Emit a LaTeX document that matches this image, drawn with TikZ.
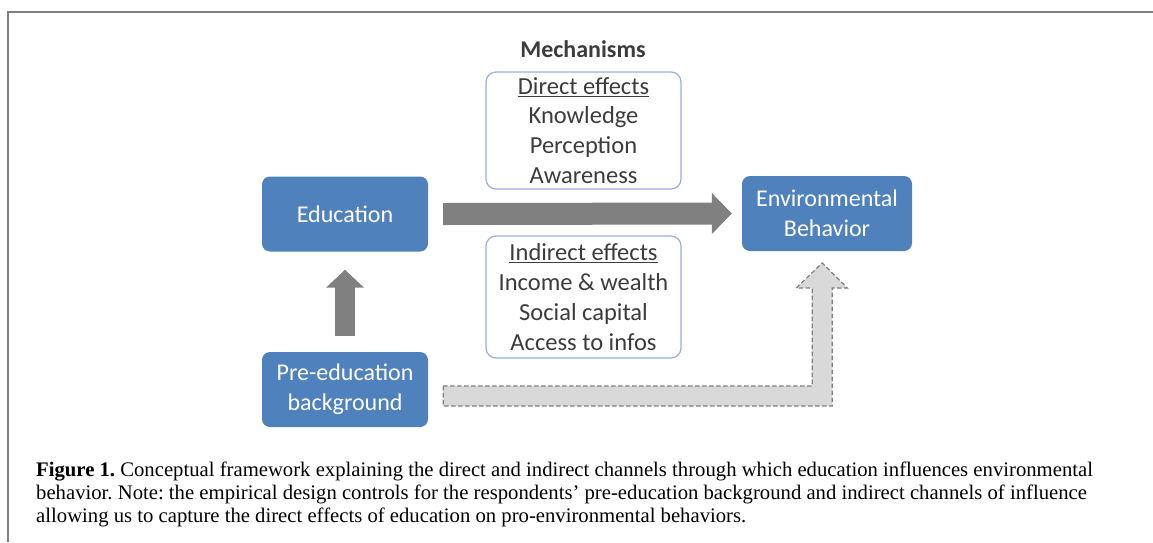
\documentclass[tikz,border=0pt]{standalone}
\usepackage{fontspec}
\setmainfont{Liberation Serif}
\newfontfamily\calib{Carlito}
\usetikzlibrary{arrows.meta,calc}
\definecolor{boxblue}{RGB}{79,129,189}
\definecolor{mechline}{RGB}{150,176,222}
\definecolor{arrowgray}{RGB}{128,128,128}
\definecolor{dashfill}{RGB}{217,217,217}
\definecolor{framegray}{RGB}{128,128,128}
\definecolor{textgray}{RGB}{60,60,60}
\tikzset{
  bluebox/.style={fill=boxblue, rounded corners=8pt, text=white, align=center,
    font=\calib\fontsize{24}{30}\selectfont, minimum width=166pt, minimum height=75pt, inner sep=0pt},
  mechbox/.style={draw=mechline, line width=1.2pt, fill=white, rounded corners=10pt, text=textgray,
    align=center, font=\calib\fontsize{24.5}{29.8}\selectfont, minimum width=195pt, inner sep=0pt},
  grayarrow/.style={draw=arrowgray, line width=#1},
}
\begin{document}
\frenchspacing
\begin{tikzpicture}[x=1pt,y=-1pt]
	\useasboundingbox (0,0) rectangle (1153,542);
	\draw[framegray, line width=2pt] (8,542) -- (8,12) -- (1153,12);
	% boxes
	\node[bluebox] (edu) at (345,214) {Education};
	\node[bluebox, minimum width=170pt] (env) at (827,213.5) {Environmental\\Behavior};
	\node[bluebox] (pre) at (345,389.5) {Pre-education\\background};
	\node[mechbox, minimum height=117pt] (direct) at (583.5,130.5)
		{\underline{Direct effects}\\Knowledge\\Perception\\Awareness};
	\node[mechbox, minimum height=122pt] (indirect) at (583.5,297)
		{\underline{Indirect effects}\\Income \& wealth\\Social capital\\Access to infos};
	\node[font=\calib\bfseries\fontsize{24}{29}\selectfont, text=textgray] (mech) at (583,49) {Mechanisms};
	% arrows
	\draw[grayarrow=22pt, -{Triangle[width=40pt,length=20pt]}] ([xshift=15pt]edu.east) -- ([xshift=-10pt]env.west);
	\draw[grayarrow=20pt, -{Triangle[width=37pt,length=18pt]}] ([yshift=16pt]pre.north) -- ([yshift=-18pt]edu.south);
	\draw[draw=arrowgray, fill=dashfill, line width=1.2pt, dash pattern=on 4.5pt off 2.5pt]
		($(pre.east)+(15,-3.5)$) -- ++(369,0) -- ++(0,-98) -- ++(-16,0) -- ++(26,-25)
		-- ++(25,25) -- ++(-15,0) -- ++(0,118) -- ++(-389,0) -- cycle;
	% caption
	\node[anchor=north west, align=left, inner sep=0pt, font=\fontsize{20.7}{23}\selectfont] (cap) at (36,461.5)
		{\textbf{Figure 1.} Conceptual framework explaining the direct and indirect channels through which education influences environmental\\
		behavior. Note: the empirical design controls for the respondents’ pre-education background and indirect channels of influence\\
		allowing us to capture the direct effects of education on pro-environmental behaviors.};
\end{tikzpicture}
\end{document}
